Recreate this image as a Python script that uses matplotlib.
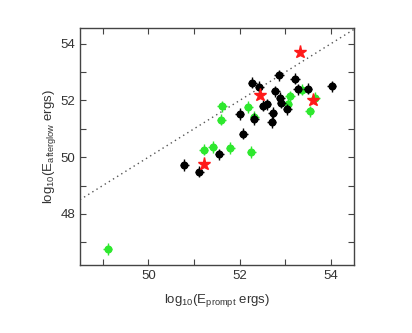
import matplotlib
matplotlib.use("Agg")
import matplotlib.pyplot as plt
import numpy as np

plt.rcParams['font.family'] = ['Liberation Sans', 'DejaVu Sans']
plt.rcParams['mathtext.default'] = 'regular'

# black sample
bx = [50.79, 51.11, 51.55, 52.08, 52.00, 52.32, 52.27, 52.43, 52.52, 52.59, 52.70,
      52.72, 52.78, 52.86, 52.89, 52.91, 53.04, 53.21, 53.27, 53.49, 54.01]
by = [49.72, 49.49, 50.10, 50.83, 51.52, 51.35, 52.62, 52.47, 51.81, 51.86, 51.24,
      51.55, 52.32, 52.88, 52.09, 51.92, 51.69, 52.76, 52.39, 52.41, 52.49]
# green sample
gx = [49.11, 51.21, 51.41, 51.79, 52.25, 51.61, 51.60, 52.19, 52.32, 53.10, 53.05,
      53.53, 53.65, 53.36]
gy = [46.76, 50.27, 50.36, 50.32, 50.18, 51.79, 51.32, 51.77, 51.41, 52.14, 51.88,
      51.61, 52.09, 52.38]
# red stars
rx = [51.22, 52.45, 53.31, 53.61]
ry = [49.75, 52.19, 53.70, 52.00]

xe = 0.1
ye = 0.2

fig = plt.figure(figsize=(4.12, 3.33), dpi=100)
ax = fig.add_axes([0.194, 0.204, 0.665, 0.712])

ax.plot([48.5, 54.5], [48.5, 54.5], linestyle=(0, (1, 2.5)), color='#555555', lw=1.0)

ax.errorbar(gx, gy, xerr=xe, yerr=ye, fmt='o', color='#2ee82e', ms=4.8,
            elinewidth=1.0, capsize=0, zorder=3)
ax.errorbar(bx, by, xerr=xe, yerr=ye, fmt='o', color='black', ms=4.8,
            elinewidth=1.0, capsize=0, zorder=4)
ax.plot(rx, ry, '*', color='#ff1a1a', ms=9.5, mec='#ff1a1a', zorder=5)

ax.set_xlim(48.5, 54.5)
ax.set_ylim(46.2, 54.55)
ax.set_xticks([50, 52, 54])
ax.set_yticks([48, 50, 52, 54])
ax.set_xticks(np.arange(49, 55, 1), minor=True)
ax.set_yticks(np.arange(47, 55, 1), minor=True)
ax.tick_params(which='both', direction='in', top=True, right=True, length=4,
               width=0.8, color='#444444', labelsize=9.5, labelcolor='#333333')
for s in ax.spines.values():
    s.set_color('#444444')
    s.set_linewidth(1.0)

ax.set_xlabel('log$_{10}$(E$_{prompt}$ ergs)', fontsize=9.5, color='#333333', labelpad=7)
ax.set_ylabel('log$_{10}$(E$_{afterglow}$ ergs)', fontsize=9.5, color='#333333', labelpad=2)

fig.savefig('out.png', dpi=100)
